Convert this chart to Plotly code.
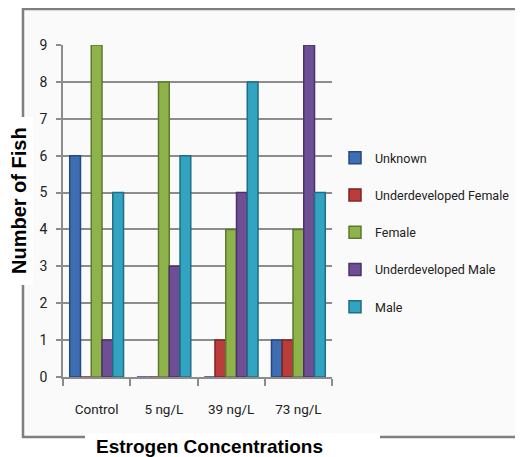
import plotly.graph_objects as go

categories = ["Control", "5 ng/L", "39 ng/L", "73 ng/L"]
series_names = ["Unknown", "Underdeveloped Female", "Female", "Underdeveloped Male", "Male"]
unknown = [6, 0, 0, 1]
underdeveloped_female = [0, 0, 1, 1]
female = [9, 8, 4, 4]
underdeveloped_male = [1, 3, 5, 9]
male = [5, 6, 8, 5]
y_ticks = [0, 1, 2, 3, 4, 5, 6, 7, 8, 9]

series_values = [unknown, underdeveloped_female, female, underdeveloped_male, male]
colors = ["#3D6DB3", "#BA3C3B", "#8EB34A", "#6E4F95", "#32A3C0"]
edge_colors = ["#27487A", "#7E2524", "#5E7830", "#4A3466", "#1F6E83"]

OFF = 8  # page body margin
W, H = 523 - OFF, 457 - OFF
L, R, T, B = 63 - OFF, 332 - OFF, 45 - OFF, 377 - OFF  # plot area in figure pixels


def px(x):
    """page pixel x -> paper x"""
    return (x - OFF - L) / (R - L)


def py(y):
    """page pixel y -> paper y"""
    return (B - (y - OFF)) / (B - T)


fig = go.Figure()
for name, vals, c, ec in zip(series_names, series_values, colors, edge_colors):
    fig.add_trace(go.Bar(
        x=categories, y=vals, name=name, legendgroup=name,
        marker=dict(color=c, line=dict(color=ec, width=1.5)),
    ))

shapes = [
    dict(type="rect", xref="paper", yref="paper", layer="below",
         x0=px(23), x1=px(540), y0=py(437), y1=py(9),
         fillcolor="#FAFAFA", line=dict(color="#7F7F7F", width=2.5)),
    dict(type="rect", xref="paper", yref="paper", layer="below",
         x0=px(0), x1=px(33), y0=py(285), y1=py(117),
         fillcolor="white", line=dict(width=0)),
    dict(type="rect", xref="paper", yref="paper", layer="below",
         x0=px(85), x1=px(380), y0=py(470), y1=py(433),
         fillcolor="white", line=dict(width=0)),
]

annotations = [
    dict(text="<b>Number of Fish</b>", xref="paper", yref="paper",
         x=px(19), y=py(201), textangle=-90, showarrow=False,
         font=dict(family="Liberation Sans, Arial, sans-serif", size=20, color="black"),
         xanchor="center", yanchor="middle"),
    dict(text="<b>Estrogen Concentrations</b>", xref="paper", yref="paper",
         x=px(209), y=py(446), showarrow=False,
         font=dict(family="Liberation Sans, Arial, sans-serif", size=19, color="black"),
         xanchor="center", yanchor="middle"),
]

x_tick_font = dict(family="Roboto, sans-serif", size=13.5, color="#222222")
y_tick_font = dict(family="Roboto, sans-serif", size=14, color="#222222")
legend_font = dict(family="Roboto, sans-serif", size=12.5, color="#222222")

fig.update_layout(
    width=W, height=H,
    margin=dict(l=L, r=W - R, t=T, b=H - B, pad=0, autoexpand=False),
    paper_bgcolor="white",
    plot_bgcolor="rgba(0,0,0,0)",
    barmode="group", bargap=0.2, bargroupgap=0.0,
    shapes=shapes, annotations=annotations,
    showlegend=True,
    legend=dict(x=px(335), y=py(143), xanchor="left", yanchor="top",
                font=legend_font, tracegroupgap=18, itemwidth=30,
                borderwidth=0, bgcolor="rgba(0,0,0,0)"),
    xaxis=dict(showline=True, linecolor="#8C8C8C", linewidth=1.5,
               ticks="outside", tickson="boundaries", ticklen=7,
               tickcolor="#8C8C8C", tickwidth=1.5, tickangle=0,
               tickfont=x_tick_font, showgrid=False, ticklabelstandoff=19,
               automargin=False),
    yaxis=dict(range=[0, 9], tickvals=y_ticks, showline=True,
               linecolor="#8C8C8C", linewidth=1.5, ticks="outside",
               ticklen=5, tickcolor="#8C8C8C", tickwidth=1.5,
               gridcolor="#8C8C8C", gridwidth=1.5, zeroline=False,
               tickfont=y_tick_font, ticklabelstandoff=6, automargin=False),
)

fig.write_html("out.html")
